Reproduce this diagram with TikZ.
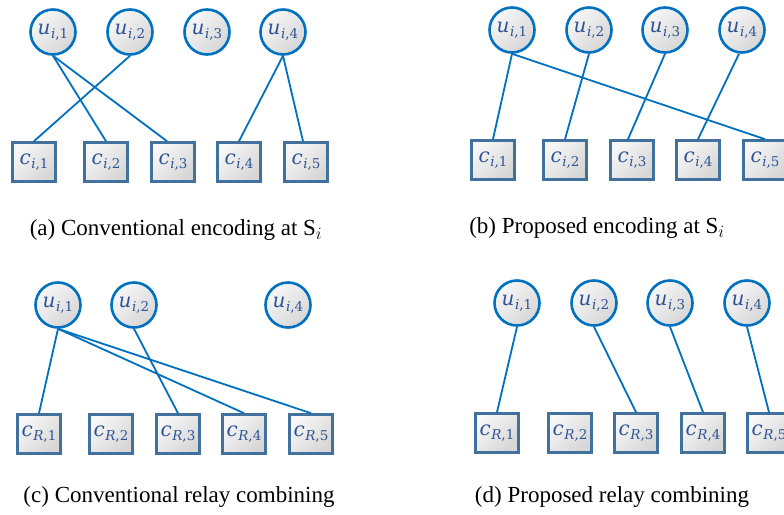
\documentclass[tikz,border=0pt]{standalone}
\usepackage[no-math]{fontspec}
\newfontfamily\capfont{Liberation Serif}
\newfontfamily\mfont{DejaVu Serif}
\newcommand{\nlab}[3]{{\mfont\itshape #1}\kern0.5pt\raisebox{-4.5pt}{\fontsize{13.5}{16}\selectfont{\mfont\itshape #2}{\mfont ,#3}}}
\definecolor{cblue}{HTML}{0070C0}
\definecolor{sblue}{HTML}{41719C}
\definecolor{tblue}{HTML}{2F5496}
\definecolor{gA}{HTML}{F7F7F7}
\definecolor{gB}{HTML}{D6D6D6}
\tikzset{
  unode/.style={circle, draw=cblue, line width=2.6pt, minimum size=45pt, inner sep=0pt,
    top color=gA, bottom color=gB, shading angle=45, text=tblue,
    font=\fontsize{20}{24}\selectfont},
  cnode/.style={rectangle, draw=sblue, line width=2.6pt, minimum width=43pt, minimum height=39pt, inner sep=0pt,
    top color=gA, bottom color=gB, shading angle=45, text=tblue,
    font=\fontsize{20}{24}\selectfont},
  link/.style={draw=cblue, line width=1.8pt},
  captext/.style={font=\capfont\fontsize{23}{26}\selectfont, inner sep=0pt}
}
\begin{document}
\begin{tikzpicture}[x=1pt,y=-1pt]
\useasboundingbox (0,0) rectangle (784,514);
% ---------- (a)
\node[unode] (a1) at (53,32) {\nlab{u}{i}{1}};
\node[unode] (a2) at (130,32) {\nlab{u}{i}{2}};
\node[unode] (a3) at (207,32) {\nlab{u}{i}{3}};
\node[unode] (a4) at (283,32) {\nlab{u}{i}{4}};
\node[cnode] (ac1) at (34,162) {\nlab{c}{i}{1}};
\node[cnode] (ac2) at (106,162) {\nlab{c}{i}{2}};
\node[cnode] (ac3) at (173,162) {\nlab{c}{i}{3}};
\node[cnode] (ac4) at (239,162) {\nlab{c}{i}{4}};
\node[cnode] (ac5) at (306,162) {\nlab{c}{i}{5}};
\draw[link] (a1.south) -- (ac2.north);
\draw[link] (a1.south) -- ([xshift=-6pt]ac3.north);
\draw[link] (a2.south) -- (ac1.north);
\draw[link] (a4.south) -- (ac4.north);
\draw[link] (a4.south) -- ([xshift=-3pt]ac5.north);
\node[captext] (capa) at (176,230) {(a) Conventional encoding at S$_{i}$};
% ---------- (b)
\node[unode] (b1) at (512,30) {\nlab{u}{i}{1}};
\node[unode] (b2) at (589,30) {\nlab{u}{i}{2}};
\node[unode] (b3) at (665,30) {\nlab{u}{i}{3}};
\node[unode] (b4) at (742,30) {\nlab{u}{i}{4}};
\node[cnode] (bc1) at (493,160) {\nlab{c}{i}{1}};
\node[cnode] (bc2) at (565,160) {\nlab{c}{i}{2}};
\node[cnode] (bc3) at (632,160) {\nlab{c}{i}{3}};
\node[cnode] (bc4) at (698,160) {\nlab{c}{i}{4}};
\node[cnode] (bc5) at (765,160) {\nlab{c}{i}{5}};
\draw[link] (b1.south) -- (bc1.north);
\draw[link] (b1.south) -- (bc5.north);
\draw[link] (b2.south) -- (bc2.north);
\draw[link] (b3.south) -- ([xshift=-4pt]bc3.north);
\draw[link] ([xshift=-3pt]b4.south) -- (bc4.north);
\node[captext] (capb) at (597,228) {(b) Proposed encoding at S$_{i}$};
% ---------- (c)
\node[unode] (c1) at (58,305) {\nlab{u}{i}{1}};
\node[unode] (c2) at (134,305) {\nlab{u}{i}{2}};
\node[unode] (c4) at (288,305) {\nlab{u}{i}{4}};
\node[cnode] (cc1) at (39,434) {\nlab{c}{R}{1}};
\node[cnode] (cc2) at (111,434) {\nlab{c}{R}{2}};
\node[cnode] (cc3) at (178,434) {\nlab{c}{R}{3}};
\node[cnode] (cc4) at (244,434) {\nlab{c}{R}{4}};
\node[cnode] (cc5) at (311,434) {\nlab{c}{R}{5}};
\draw[link] (c1.south) -- (cc1.north);
\draw[link] (c1.south) -- (cc4.north);
\draw[link] (c1.south) -- (cc5.north);
\draw[link] (c2.south) -- (cc3.north);
\node[captext] (capc) at (179,497) {(c) Conventional relay combining};
% ---------- (d)
\node[unode] (d1) at (517,303) {\nlab{u}{i}{1}};
\node[unode] (d2) at (594,303) {\nlab{u}{i}{2}};
\node[unode] (d3) at (670,303) {\nlab{u}{i}{3}};
\node[unode] (d4) at (747,303) {\nlab{u}{i}{4}};
\node[cnode] (dc1) at (497,433) {\nlab{c}{R}{1}};
\node[cnode] (dc2) at (570,433) {\nlab{c}{R}{2}};
\node[cnode] (dc3) at (636,433) {\nlab{c}{R}{3}};
\node[cnode] (dc4) at (703,433) {\nlab{c}{R}{4}};
\node[cnode] (dc5) at (769,433) {\nlab{c}{R}{5}};
\draw[link] (d1.south) -- (dc1.north);
\draw[link] (d2.south) -- (dc3.north);
\draw[link] (d3.south) -- (dc4.north);
\draw[link] (d4.south) -- (dc5.north);
\node[captext] (capd) at (612,497) {(d) Proposed relay combining};
\end{tikzpicture}
\end{document}
